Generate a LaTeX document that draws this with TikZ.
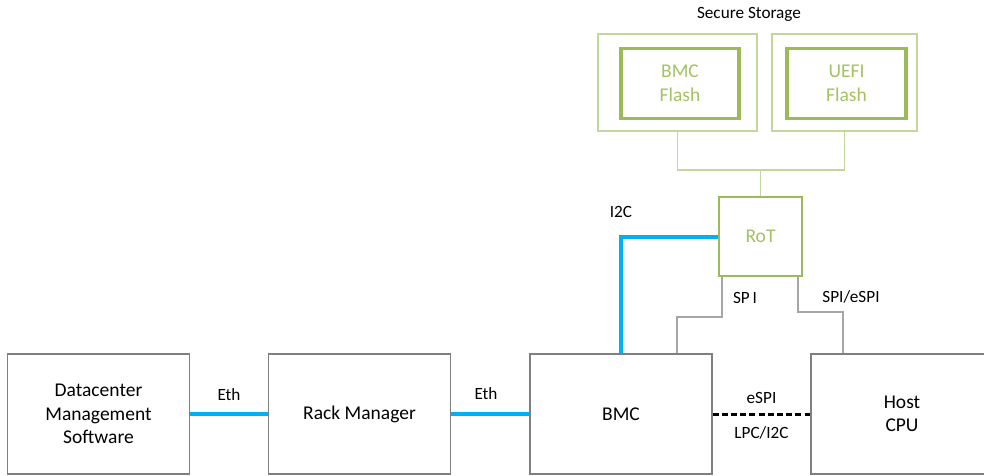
\documentclass[tikz,border=0pt]{standalone}
\usepackage{fontspec}
\setmainfont{Carlito}
\definecolor{boxgray}{HTML}{7F7F7F}
\definecolor{linegray}{HTML}{A6A6A6}
\definecolor{ethblue}{HTML}{00B0F0}
\definecolor{palegreen}{HTML}{C3D69B}
\definecolor{midgreen}{HTML}{9BBB59}
\definecolor{textgreen}{HTML}{A3C264}
\tikzset{
  mainbox/.style={draw=boxgray, line width=1.3pt, minimum width=182, minimum height=120, inner sep=0pt, align=center, font=\fontsize{19.5}{23.5}\selectfont},
  outerbox/.style={draw=palegreen, line width=1.3pt, inner sep=0pt},
  innerbox/.style={draw=midgreen, line width=3.2pt, inner sep=0pt, align=center, text=textgreen, font=\fontsize{19.5}{24}\selectfont},
  rotbox/.style={draw=midgreen, line width=2.6pt, minimum width=83, minimum height=79, inner sep=0pt, text=textgreen, font=\fontsize{19.5}{24}\selectfont},
  lbl/.style={inner sep=0pt, font=\fontsize{17.2}{20}\selectfont},
  ethline/.style={draw=ethblue, line width=4pt},
  grayline/.style={draw=linegray, line width=1.2pt},
  greenline/.style={draw=palegreen, line width=1.3pt},
  dotline/.style={draw=black, line width=3pt, dash pattern=on 6pt off 3.2pt}
}
\begin{document}
\begin{tikzpicture}[x=1pt, y=-1pt]
\clip (0,0) rectangle (984,475);
\fill[white] (0,0) rectangle (984,475);
% bottom row
\node[mainbox] (dms) at (98.5,414) {Datacenter\\Management\\Software};
\node[mainbox] (rack) at (359.5,414) {Rack Manager};
\node[mainbox] (bmc) at (621,414) {BMC};
\node[mainbox] (host) at (902,414) {Host\\CPU};
% RoT
\node[rotbox] (rot) at (760.5,236.5) {RoT};
% secure storage
\node[outerbox, minimum width=159, minimum height=97] (sbmc) at (677.5,82.5) {};
\node[outerbox, minimum width=145, minimum height=97] (suefi) at (844.5,82.5) {};
\node[innerbox, minimum width=118, minimum height=70] (fbmc) at (680,83.5) {BMC\\Flash};
\node[innerbox, minimum width=119, minimum height=70] (fuefi) at (846.5,83.5) {UEFI\\Flash};
\node[lbl] (sstitle) at (749,14) {Secure Storage};
% storage connectors
\coordinate (junc) at (760.5,170);
\draw[greenline] (sbmc.south) |- (junc) -| (suefi.south);
\draw[greenline] (junc) -- (rot.north);
% eth links
\draw[ethline] (dms.east) -- (rack.west);
\draw[ethline] (rack.east) -- (bmc.west);
\node[lbl] (eth1) at (229,395) {Eth};
\node[lbl] (eth2) at (486,394) {Eth};
% I2C
\draw[ethline] (rot.west) -| (bmc.north);
\node[lbl] (i2c) at (621,212) {I2C};
% SPI
\coordinate (spiA) at (722,317);
\coordinate (spiB) at (677,317);
\draw[grayline] (rot.south west -| spiA) -- (spiA) -- (spiB) -- (bmc.north -| spiB);
\node[lbl] (spi) at (745,298) {SP\,I};
% SPI/eSPI
\coordinate (seA) at (798,312);
\coordinate (seB) at (843,312);
\draw[grayline] (rot.south east -| seA) -- (seA) -- (seB) -- (host.north -| seB);
\node[lbl] (spie) at (851,297) {SPI/eSPI};
% eSPI dotted
\draw[dotline] (bmc.east) -- (host.west);
\node[lbl] (espi) at (761.5,398) {eSPI};
\node[lbl] (lpc) at (761.5,433) {LPC/I2C};
\end{tikzpicture}
\end{document}
